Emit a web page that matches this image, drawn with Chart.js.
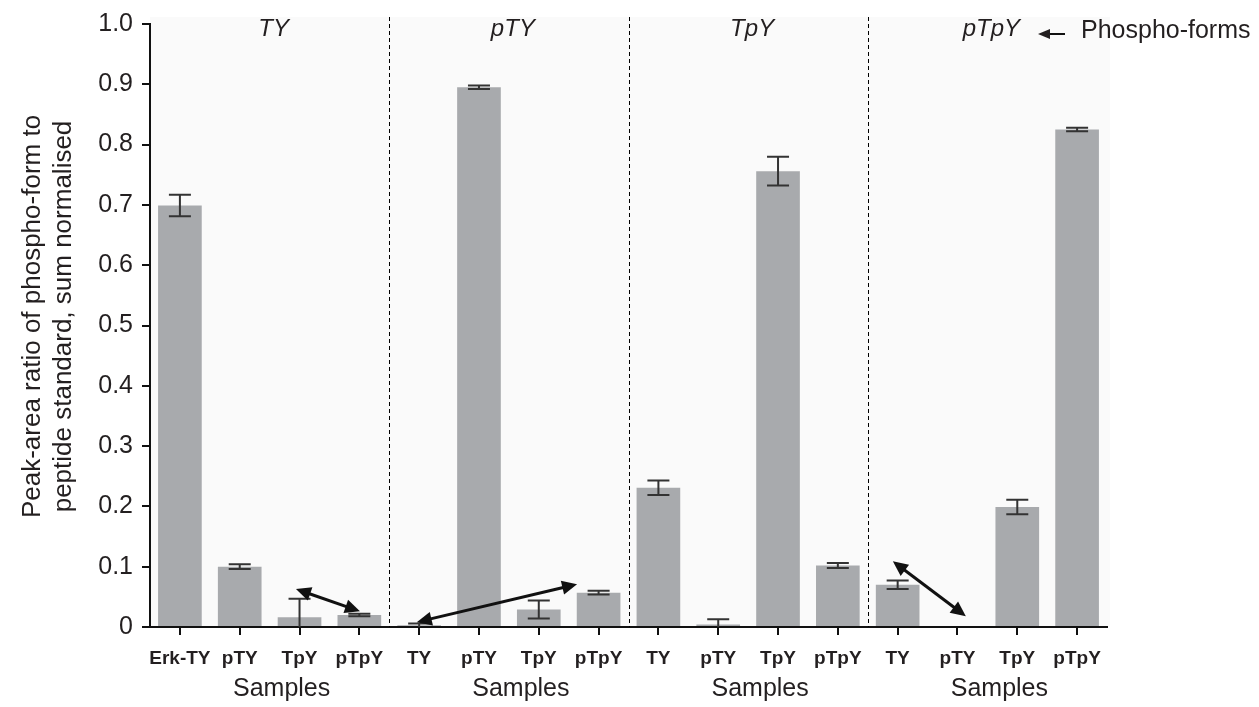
<!DOCTYPE html>
<html>
<head>
<meta charset="utf-8">
<script src="https://cdn.jsdelivr.net/npm/chart.js@4"></script>
<style>
  html, body { margin: 0; padding: 0; background: #ffffff; }
  #wrap { width: 1259px; height: 707px; position: relative; }
</style>
</head>
<body>
<div id="wrap"><canvas id="chart"></canvas></div>
<script>
// Samples along the x axis, four per phospho-form panel
const categories = ['Erk-TY', 'pTY', 'TpY', 'pTpY',
                    'TY', 'pTY', 'TpY', 'pTpY',
                    'TY', 'pTY', 'TpY', 'pTpY',
                    'TY', 'pTY', 'TpY', 'pTpY'];
// Phospho-form measured in each panel
const groupTitles = ['TY', 'pTY', 'TpY', 'pTpY'];
const samplesPerGroup = 4;
// Peak-area ratio, sum normalised
const ratios = [0.699, 0.100, 0.016, 0.020,
                0.003, 0.895, 0.029, 0.057,
                0.231, 0.004, 0.756, 0.102,
                0.070, 0.000, 0.199, 0.825];
// Error (+/-) on each ratio
const errors = [0.018, 0.004, 0.031, 0.002,
                0.003, 0.003, 0.015, 0.003,
                0.012, 0.009, 0.024, 0.004,
                0.007, 0.000, 0.012, 0.003];
const yTickLabels = ['0', '0.1', '0.2', '0.3', '0.4', '0.5', '0.6', '0.7', '0.8', '0.9', '1.0'];
const yTitleLines = ['Peak-area ratio of phospho-form to', 'peptide standard, sum normalised'];
// Double-headed arrows, as (category index, ratio) pairs
const arrowStarts = [[1.94, 0.063], [3.96, 0.008], [11.92, 0.109]];
const arrowEnds   = [[3.01, 0.026], [6.64, 0.071], [13.14, 0.018]];

const FONT = '"Liberation Sans", Arial, Helvetica, sans-serif';
const INK = '#231f20';

function arrowHead(ctx, x1, y1, x2, y2, len, half) {
  const a = Math.atan2(y2 - y1, x2 - x1);
  ctx.beginPath();
  ctx.moveTo(x2, y2);
  ctx.lineTo(x2 - len * Math.cos(a) + half * Math.sin(a), y2 - len * Math.sin(a) - half * Math.cos(a));
  ctx.lineTo(x2 - len * Math.cos(a) - half * Math.sin(a), y2 - len * Math.sin(a) + half * Math.cos(a));
  ctx.closePath();
  ctx.fill();
}

const panelPlugin = {
  id: 'panels',
  beforeDraw(chart) {
    const { ctx, chartArea: a } = chart;
    ctx.save();
    ctx.fillStyle = '#fafafa';
    ctx.fillRect(a.left, a.top - 7, a.right - a.left + 3, a.bottom - a.top + 7);
    ctx.restore();
  },
  afterDatasetsDraw(chart) {
    const { ctx, chartArea: a, scales: { x, y } } = chart;
    const meta = chart.getDatasetMeta(0);
    ctx.save();

    // error bars
    ctx.strokeStyle = '#333333';
    ctx.lineWidth = 2;
    ratios.forEach((v, i) => {
      const e = errors[i];
      if (!e) return;
      const cx = meta.data[i].x;
      const hi = y.getPixelForValue(v + e);
      const loV = v - e;
      const lo = y.getPixelForValue(Math.max(0, loV));
      ctx.beginPath();
      ctx.moveTo(cx, hi); ctx.lineTo(cx, lo);
      ctx.moveTo(cx - 11, hi); ctx.lineTo(cx + 11, hi);
      if (loV > 0) { ctx.moveTo(cx - 11, lo); ctx.lineTo(cx + 11, lo); }
      ctx.stroke();
    });

    // dashed separators between panels
    ctx.strokeStyle = '#000000';
    ctx.lineWidth = 1;
    ctx.setLineDash([4, 3]);
    for (let g = 1; g < groupTitles.length; g++) {
      const sx = Math.round(x.getPixelForValue(g * samplesPerGroup - 0.5)) + 0.5;
      ctx.beginPath();
      ctx.moveTo(sx, a.top - 7);
      ctx.lineTo(sx, a.bottom);
      ctx.stroke();
    }
    ctx.setLineDash([]);

    // double-headed arrows
    ctx.strokeStyle = '#111111';
    ctx.fillStyle = '#111111';
    ctx.lineWidth = 3;
    arrowStarts.forEach((s, k) => {
      const e = arrowEnds[k];
      const x1 = x.getPixelForValue(s[0]), y1 = y.getPixelForValue(s[1]);
      const x2 = x.getPixelForValue(e[0]), y2 = y.getPixelForValue(e[1]);
      const ang = Math.atan2(y2 - y1, x2 - x1);
      const inset = 12;
      ctx.beginPath();
      ctx.moveTo(x1 + inset * Math.cos(ang), y1 + inset * Math.sin(ang));
      ctx.lineTo(x2 - inset * Math.cos(ang), y2 - inset * Math.sin(ang));
      ctx.stroke();
      arrowHead(ctx, x1, y1, x2, y2, 15, 7);
      arrowHead(ctx, x2, y2, x1, y1, 15, 7);
    });

    // panel titles and "Samples" labels
    ctx.fillStyle = INK;
    ctx.textAlign = 'center';
    ctx.textBaseline = 'middle';
    groupTitles.forEach((t, g) => {
      const c0 = x.getPixelForValue(g * samplesPerGroup);
      const c1 = x.getPixelForValue(g * samplesPerGroup + samplesPerGroup - 1);
      const mid = (c0 + c1) / 2;
      ctx.font = 'italic 24px ' + FONT;
      ctx.fillText(t, mid + 4, a.top + 5);
      ctx.font = '25px ' + FONT;
      ctx.fillText('Samples', mid + 12, 689);
    });

    // y-axis title, two rotated lines
    ctx.save();
    ctx.translate(0, (a.top + a.bottom) / 2 - 9);
    ctx.rotate(-Math.PI / 2);
    ctx.font = '26px ' + FONT;
    yTitleLines.forEach((line, k) => ctx.fillText(line, 0, 33 + k * 31));
    ctx.restore();

    // key: arrow + "Phospho-forms"
    const ky = a.top + 10;
    ctx.strokeStyle = '#111111';
    ctx.lineWidth = 2;
    ctx.beginPath();
    ctx.moveTo(1065, ky); ctx.lineTo(1046, ky);
    ctx.stroke();
    ctx.beginPath();
    ctx.moveTo(1038, ky); ctx.lineTo(1050, ky - 5); ctx.lineTo(1050, ky + 5); ctx.closePath();
    ctx.fill();
    ctx.textAlign = 'left';
    ctx.font = '25px ' + FONT;
    ctx.fillText('Phospho-forms', 1081, ky - 3);
    ctx.restore();
  }
};

new Chart(document.getElementById('chart'), {
  type: 'bar',
  data: {
    labels: categories,
    datasets: [{
      data: ratios,
      backgroundColor: '#a8aaad',
      borderWidth: 0,
      barPercentage: 0.73,
      categoryPercentage: 1.0
    }]
  },
  options: {
    responsive: true,
    maintainAspectRatio: false,
    animation: false,
    layout: { padding: { left: 0, top: 22, right: 152, bottom: 0 } },
    plugins: { legend: { display: false }, tooltip: { enabled: false } },
    scales: {
      x: {
        afterFit(s) { s.height = 80; },
        border: { display: true, color: '#111111', width: 2 },
        grid: { display: true, drawOnChartArea: false, drawTicks: true, offset: false,
                tickLength: 8, color: '#111111', lineWidth: 2 },
        ticks: { color: INK, padding: 12, maxRotation: 0, autoSkip: false,
                 font: { family: FONT, size: 19, weight: 'bold' } }
      },
      y: {
        min: 0, max: 1,
        afterFit(s) { s.width = 150; },
        border: { display: true, color: '#111111', width: 2 },
        grid: { display: true, drawOnChartArea: false, drawTicks: true,
                tickLength: 8, color: '#111111', lineWidth: 2 },
        ticks: {
          stepSize: 0.1, padding: 9, color: INK,
          font: { family: FONT, size: 25 },
          callback: (v) => yTickLabels[Math.round(v * 10)]
        }
      }
    }
  },
  plugins: [panelPlugin]
});
</script>
</body>
</html>
